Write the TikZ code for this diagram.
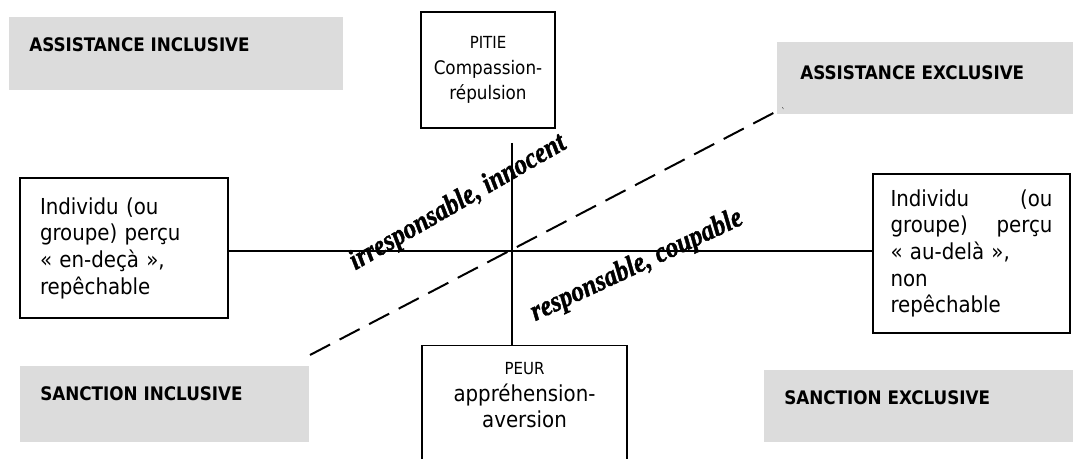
\documentclass[tikz,border=0pt]{standalone}
\usepackage{fontspec}
\setmainfont{DejaVu Sans Condensed}
\newfontfamily\wordart{Liberation Serif}[BoldItalicFeatures={FakeBold=1.5}]
\usetikzlibrary{positioning,calc}
\definecolor{quadgrey}{RGB}{220,220,220}
\tikzset{
  frame/.style={draw=black,line width=1.1pt,inner sep=0pt,font=\fontsize{16.5}{20}\selectfont},
  boxtext/.style={inner sep=0pt,align=center,font=\fontsize{16.5}{20}\selectfont},
  quadrant/.style={fill=quadgrey},
  quadtext/.style={anchor=west,inner sep=0pt,font=\bfseries\fontsize{14}{17}\selectfont},
  axis/.style={line width=1.1pt},
  divide/.style={line width=1.5pt,dash pattern=on 17pt off 8pt},
  slanted/.style={inner sep=0pt,font=\wordart\bfseries\itshape\fontsize{19}{22}\selectfont}
}
\newcommand{\smallcap}[1]{{\fontsize{12.5}{15}\selectfont #1}}
\newcommand{\spread}{\hspace{0pt plus 1filll}}
\begin{document}
\begin{tikzpicture}[x=0.75pt,y=-0.75pt]
\useasboundingbox (0,0) rectangle (1073,459);
%quadrants
\fill[quadrant] (9,17) rectangle (343,90);
\node[quadtext] (assincl) at (29,45) {ASSISTANCE INCLUSIVE};
\fill[quadrant] (777,42) rectangle (1073,114);
\node[quadtext] (assexcl) at (800,73) {ASSISTANCE EXCLUSIVE};
\fill[quadrant] (20,366) rectangle (309,442);
\node[quadtext] (sancincl) at (40,394) {SANCTION INCLUSIVE};
\fill[quadrant] (764,370) rectangle (1073,442);
\node[quadtext] (sancexcl) at (784,398) {SANCTION EXCLUSIVE};
%boxes
\node[frame,minimum width=100.5pt,minimum height=87pt,align=center,
  font=\fontsize{14}{19}\selectfont] (pitie) at (488,70)
  {\smallcap{PITIE}\\Compassion-\\répulsion};
\node[frame,text width=126pt,inner xsep=15pt,minimum height=105pt,align=left] (endeca) at (124,248)
  {Individu (ou\\groupe) perçu\\« en-deçà »,\\repêchable};
\node[frame,text width=121.5pt,inner xsep=13.1pt,minimum height=119.25pt,align=left] (audela) at (971.5,253.5)
  {Individu \spread(ou\\groupe) \spread perçu\\« au-delà »,\\non\\repêchable};
\node[frame,anchor=north,minimum width=153.75pt,minimum height=120pt] (peur) at (524.5,345) {};
\node[boxtext,anchor=north] (peurtext) at ($(peur.north)+(0,17)$)
  {\smallcap{PEUR}\\appréhension-\\aversion};
%axes
\coordinate (centre) at (512,251);
\coordinate (vtop) at (512,143);
\coordinate (dlow) at (310,355);
\coordinate (dhigh) at (783,108);
\draw[axis] (endeca.east |- centre) -- (audela.west |- centre);
\draw[axis] (vtop) -- (centre |- peur.north);
\draw[divide] (dlow) -- (dhigh);
%labels
\node[slanted,rotate=30,yscale=1.15] (innocent) at (458,203) {irresponsable, innocent};
\node[slanted,rotate=25,yscale=1.15] (coupable) at (637,266) {responsable, coupable};
\end{tikzpicture}
\end{document}
